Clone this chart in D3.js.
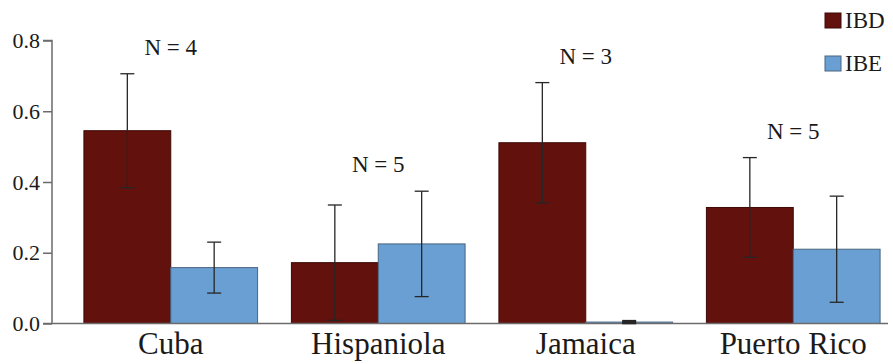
<!DOCTYPE html>
<html>
<head>
    <meta charset="UTF-8">
    <title>IBD / IBE by island</title>
    <style>
        body { margin: 0; background: #fff; }
        svg text { font-family: 'Liberation Serif', 'Times New Roman', Times, 'DejaVu Serif', serif !important; fill: #1a1a1a; }
    </style>
</head>
<body>
    <div id="my_dataviz"></div>

    <script src="https://d3js.org/d3.v7.min.js"></script>
    <script>
        // data
        var islands = ["Cuba", "Hispaniola", "Jamaica", "Puerto Rico"];
        var seriesNames = ["IBD", "IBE"];
        var ibd = [0.545, 0.172, 0.511, 0.328];
        var ibdErr = [0.161, 0.163, 0.170, 0.141];
        var ibe = [0.158, 0.225, 0.004, 0.210];
        var ibeErr = [0.072, 0.149, 0.002, 0.150];
        var sampleN = [4, 5, 3, 5];
        var yTicks = [0, 0.2, 0.4, 0.6, 0.8];

        var colors = { IBD: "#63110c", IBE: "#6a9fd3" };
        var strokes = { IBD: "#3d0906", IBE: "#4a6580" };

        var width = 893, height = 364;

        var svg = d3.select("#my_dataviz")
            .append("svg")
            .attr("width", width)
            .attr("height", height);

        // scales
        var x = d3.scaleBand()
            .domain(islands)
            .range([67, 897])
            .paddingInner(0.163)
            .paddingOuter(0.0815);

        var xSub = d3.scaleBand()
            .domain(seriesNames)
            .range([0, x.bandwidth()]);

        var y = d3.scaleLinear()
            .domain([0, 0.8])
            .range([323.5, 40.5]);

        // build rows for bars
        var rows = [];
        islands.forEach(function (isl, i) {
            rows.push({ island: isl, series: "IBD", value: ibd[i], err: ibdErr[i] });
            rows.push({ island: isl, series: "IBE", value: ibe[i], err: ibeErr[i] });
        });

        // y axis
        var yAxis = svg.append("g")
            .attr("transform", "translate(52,0)")
            .call(d3.axisLeft(y).tickValues(yTicks).tickFormat(d3.format(".1f")).tickSize(9).tickPadding(3));
        yAxis.attr("font-family", null);
        yAxis.select(".domain").attr("stroke", "#6b6b6b").attr("stroke-width", 1.5)
            .attr("d", "M-9," + y(0.8) + "H0V" + y(0));
        yAxis.selectAll(".tick line").attr("stroke", "#6b6b6b").attr("stroke-width", 1.5);
        yAxis.selectAll(".tick text").style("font-size", "22px");

        // bars
        svg.selectAll("rect.bar")
            .data(rows)
            .enter()
            .append("rect")
            .attr("class", "bar")
            .attr("x", function (d) { return x(d.island) + xSub(d.series); })
            .attr("y", function (d) { return y(d.value); })
            .attr("width", xSub.bandwidth())
            .attr("height", function (d) { return y(0) - y(d.value); })
            .style("fill", function (d) { return colors[d.series]; })
            .style("stroke", function (d) { return strokes[d.series]; })
            .style("stroke-width", 1);

        // x axis baseline
        var xAxis = svg.append("g")
            .attr("transform", "translate(0," + y(0) + ")")
            .call(d3.axisBottom(x).tickSize(0).tickPadding(8));
        xAxis.attr("font-family", null);
        xAxis.select(".domain").attr("stroke", "#6b6b6b").attr("stroke-width", 1.5)
            .attr("d", "M43,0H888");
        xAxis.selectAll(".tick text").style("font-size", "31px")
            .attr("dy", "0.71em");

        // error bars
        var capW = 14;
        var eb = svg.selectAll("g.err")
            .data(rows)
            .enter()
            .append("g")
            .attr("class", "err")
            .attr("transform", function (d) {
                return "translate(" + (x(d.island) + xSub(d.series) + xSub.bandwidth() / 2) + ",0)";
            })
            .style("stroke", "#262626")
            .style("stroke-width", function (d) { return d.err < 0.01 ? 3 : 1.3; });

        eb.append("line")
            .attr("y1", function (d) { return y(d.value + d.err); })
            .attr("y2", function (d) { return y(d.value - d.err); });
        eb.append("line")
            .attr("x1", -capW / 2).attr("x2", capW / 2)
            .attr("y1", function (d) { return y(d.value + d.err); })
            .attr("y2", function (d) { return y(d.value + d.err); });
        eb.append("line")
            .attr("x1", -capW / 2).attr("x2", capW / 2)
            .attr("y1", function (d) { return y(d.value - d.err); })
            .attr("y2", function (d) { return y(d.value - d.err); });

        // N labels above the highest error cap in each group
        svg.selectAll("text.nlab")
            .data(islands)
            .enter()
            .append("text")
            .attr("class", "nlab")
            .attr("x", function (d) { return x(d) + x.bandwidth() / 2; })
            .attr("y", function (d, i) {
                return y(Math.max(ibd[i] + ibdErr[i], ibe[i] + ibeErr[i])) - 19;
            })
            .attr("text-anchor", "middle")
            .style("font-size", "23px")
            .text(function (d, i) { return "N = " + sampleN[i]; });

        // legend
        var legend = svg.selectAll("g.legend")
            .data(seriesNames)
            .enter()
            .append("g")
            .attr("class", "legend")
            .attr("transform", function (d, i) { return "translate(825," + (13 + i * 43) + ")"; });

        legend.append("rect")
            .attr("width", 16)
            .attr("height", 15)
            .style("fill", function (d) { return colors[d]; })
            .style("stroke", function (d) { return strokes[d]; })
            .style("stroke-width", 1);

        legend.append("text")
            .attr("x", 20)
            .attr("y", 15)
            .style("font-size", "23px")
            .text(function (d) { return d; });
    </script>
</body>
</html>
